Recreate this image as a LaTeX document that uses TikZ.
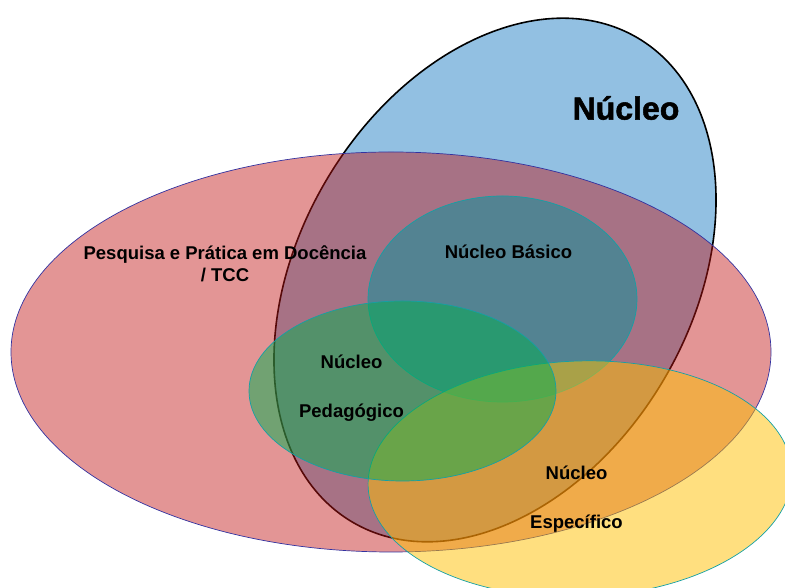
\documentclass[tikz,border=0pt]{standalone}
\usepackage{fontspec}
\setmainfont{Liberation Sans}
\newfontfamily\heavyfont[BoldFeatures={FakeBold=1.6}]{Liberation Sans}
\usetikzlibrary{positioning}
\definecolor{nucleoblue}{RGB}{146,192,226}
\definecolor{pesqred}{RGB}{193,20,20}
\definecolor{basicoteal}{RGB}{0,148,159}
\definecolor{pedagreen}{RGB}{0,176,80}
\definecolor{especgold}{RGB}{255,192,0}
\definecolor{rimteal}{RGB}{20,160,165}
\definecolor{rimnavy}{RGB}{50,50,160}

\begin{document}
\begin{tikzpicture}[x=1pt, y=1pt,
            setarea/.style={fill opacity=0.5, draw=rimteal, line width=0.7pt},
            label/.style={font=\bfseries\fontsize{18.5}{22}\selectfont, align=center, inner sep=0pt}
        ]
        \useasboundingbox (0,0) rectangle (785,588);
        \clip (0,0) rectangle (785,588);
        % conjuntos
        \filldraw[fill=nucleoblue, draw=black, line width=1.6pt, shift={(495,308)}, rotate=59.5] (0,0) ellipse (281pt and 196pt);
        \filldraw[fill=pesqred, fill opacity=0.45, draw=rimnavy, line width=0.7pt] (391,236) ellipse (380pt and 200pt);
        \filldraw[setarea, fill=basicoteal] (502.5,289) ellipse (134.5pt and 103pt);
        \filldraw[setarea, fill=especgold, shift={(580,109)}, rotate=2] (0,0) ellipse (212pt and 118pt);
        \filldraw[setarea, fill=pedagreen] (402.5,197) ellipse (153.5pt and 90pt);
        
        % rotulos
        \node[label, font=\heavyfont\bfseries\fontsize{32}{38}\selectfont] (nucleo) at (626,480) {Núcleo};
        \node[label] (pesquisa) at (225,324) {Pesquisa e Prática em Docência\\/ TCC};
        \node[label] (basico) at (508.5,336) {Núcleo Básico};
        \node[label] (pedagogico) at (351.5,199.5) {Núcleo\\[27pt]Pedagógico};
        \node[label] (especifico) at (576.5,89) {Núcleo\\[27pt]Específico};
        \end{tikzpicture}
\end{document}
